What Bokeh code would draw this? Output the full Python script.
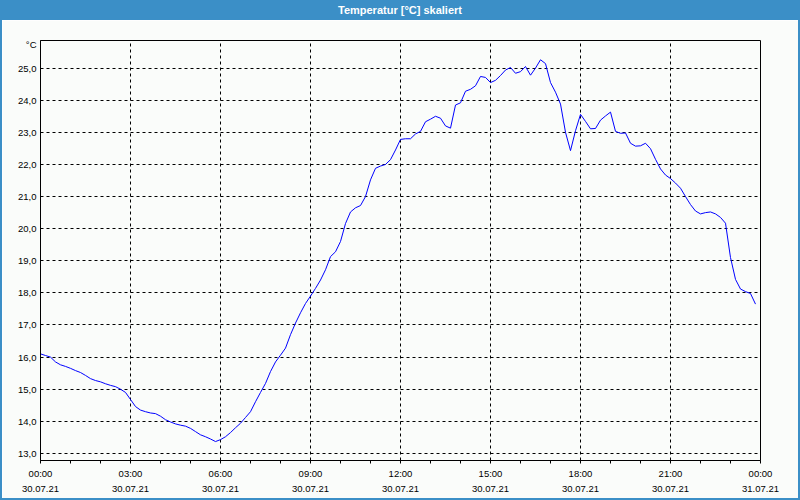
from bokeh.plotting import figure
from bokeh.models import Div, Range1d, FixedTicker, LinearAxis
from bokeh.layouts import column
from bokeh.embed import file_html
from bokeh.resources import INLINE

# ---- data: temperature every 10 minutes, 30.07.21 00:00 .. 23:50 ----
minutes_step = 10
temperature = [
    16.10, 16.05, 16.00, 15.85, 15.76, 15.71, 15.65, 15.58, 15.52, 15.43,
    15.33, 15.27, 15.23, 15.17, 15.12, 15.08, 15.00, 14.90, 14.68, 14.46,
    14.35, 14.30, 14.26, 14.24, 14.16, 14.05, 13.98, 13.92, 13.88, 13.85,
    13.78, 13.68, 13.58, 13.52, 13.45, 13.37, 13.43, 13.52, 13.65, 13.80,
    13.94, 14.12, 14.30, 14.61, 14.90, 15.18, 15.55, 15.85, 16.06, 16.28,
    16.70, 17.06, 17.38, 17.67, 17.90, 18.14, 18.40, 18.72, 19.13, 19.28,
    19.60, 20.16, 20.52, 20.65, 20.72, 21.00, 21.52, 21.88, 21.95, 22.00,
    22.15, 22.45, 22.78, 22.80, 22.80, 22.95, 23.03, 23.33, 23.41, 23.50,
    23.44, 23.20, 23.13, 23.85, 23.92, 24.28, 24.34, 24.45, 24.74, 24.71,
    24.55, 24.62, 24.77, 24.94, 25.02, 24.84, 24.89, 25.05, 24.78, 25.00,
    25.26, 25.14, 24.55, 24.25, 23.88, 23.00, 22.43, 23.05, 23.56, 23.34,
    23.11, 23.12, 23.38, 23.51, 23.63, 23.03, 22.97, 22.98, 22.66, 22.57,
    22.58, 22.66, 22.49, 22.16, 21.86, 21.67, 21.56, 21.42, 21.26, 21.00,
    20.75, 20.55, 20.46, 20.50, 20.52, 20.46, 20.35, 20.17, 19.10, 18.42,
    18.12, 18.04, 17.98, 17.65,
]
hours = [i * minutes_step / 60 for i in range(len(temperature))]

x_major = [0, 3, 6, 9, 12, 15, 18, 21, 24]
x_minor = [h for h in range(25) if h % 3 != 0]
time_labels = ["00:00", "03:00", "06:00", "09:00", "12:00", "15:00", "18:00", "21:00", "00:00"]
date_labels = ["30.07.21"] * 8 + ["31.07.21"]
y_ticks = list(range(13, 26))
y_labels = ["13,0", "14,0", "15,0", "16,0", "17,0", "18,0", "19,0",
            "20,0", "21,0", "22,0", "23,0", "24,0", "25,0"]
unit_pos = 25.735
title_text = "Temperatur [°C] skaliert"
unit_text = "°C"

BLUE = "#3b8fc7"
BG = "#fafcfa"
FONT = "Liberation Sans"
FS = "9.5px"

title = Div(
    text=title_text, width=796, height=20,
    styles={"background-color": BLUE, "color": "white", "font-family": FONT,
            "font-weight": "bold", "font-size": "11px", "text-align": "center",
            "line-height": "20px", "width": "796px", "height": "20px", "margin": "0"},
)

p = figure(width=796, height=478, output_backend="svg", toolbar_location=None,
           x_range=Range1d(0, 24), y_range=Range1d(12.78, 25.86),
           min_border_left=38, min_border_right=38, min_border_top=20, min_border_bottom=38,
           background_fill_color=BG, border_fill_color=BG,
           outline_line_color="black", outline_line_width=1, outline_line_alpha=1)

p.line(hours, temperature, line_color="#0000ff", line_width=1)

# x axis: times
xa = p.xaxis[0]
xa.ticker = FixedTicker(ticks=x_major, minor_ticks=x_minor)
xa.major_label_overrides = {t: s for t, s in zip(x_major, time_labels)}
xa.major_tick_in = 0
xa.major_tick_out = 3
xa.minor_tick_in = 0
xa.minor_tick_out = 3
xa.axis_line_color = "black"
xa.major_tick_line_color = "black"
xa.minor_tick_line_color = "black"
xa.major_label_standoff = 4
xa.major_label_text_font = FONT
xa.major_label_text_font_size = FS
xa.major_label_text_color = "black"

# x axis: dates
xa2 = LinearAxis(ticker=FixedTicker(ticks=x_major, minor_ticks=[]))
xa2.major_label_overrides = {t: s for t, s in zip(x_major, date_labels)}
xa2.axis_line_color = None
xa2.major_tick_line_color = None
xa2.minor_tick_line_color = None
xa2.major_tick_in = 0
xa2.major_tick_out = 0
xa2.major_label_standoff = 4
xa2.major_label_text_font = FONT
xa2.major_label_text_font_size = FS
xa2.major_label_text_color = "black"
p.add_layout(xa2, "below")

# y axis (unit shown as an extra label at the top)
ya = p.yaxis[0]
ya.ticker = FixedTicker(ticks=y_ticks + [unit_pos], minor_ticks=[])
overrides = {t: s for t, s in zip(y_ticks, y_labels)}
overrides[unit_pos] = unit_text
ya.major_label_overrides = overrides
ya.major_tick_in = 0
ya.major_tick_out = 0
ya.minor_tick_in = 0
ya.minor_tick_out = 0
ya.axis_line_color = "black"
ya.major_label_standoff = 4
ya.major_label_text_font = FONT
ya.major_label_text_font_size = FS
ya.major_label_text_color = "black"

# grids
p.xgrid.ticker = FixedTicker(ticks=x_major[1:-1])
p.ygrid.ticker = FixedTicker(ticks=y_ticks)
for g in (p.xgrid[0], p.ygrid[0]):
    g.grid_line_color = "black"
    g.grid_line_dash = "3 3"
    g.grid_line_width = 1
    g.grid_line_alpha = 1

layout = column(title, p, spacing=0,
                styles={"border-left": f"2px solid {BLUE}", "border-right": f"2px solid {BLUE}",
                        "border-bottom": f"2px solid {BLUE}"})

open("out.html", "w").write(file_html(layout, INLINE))
